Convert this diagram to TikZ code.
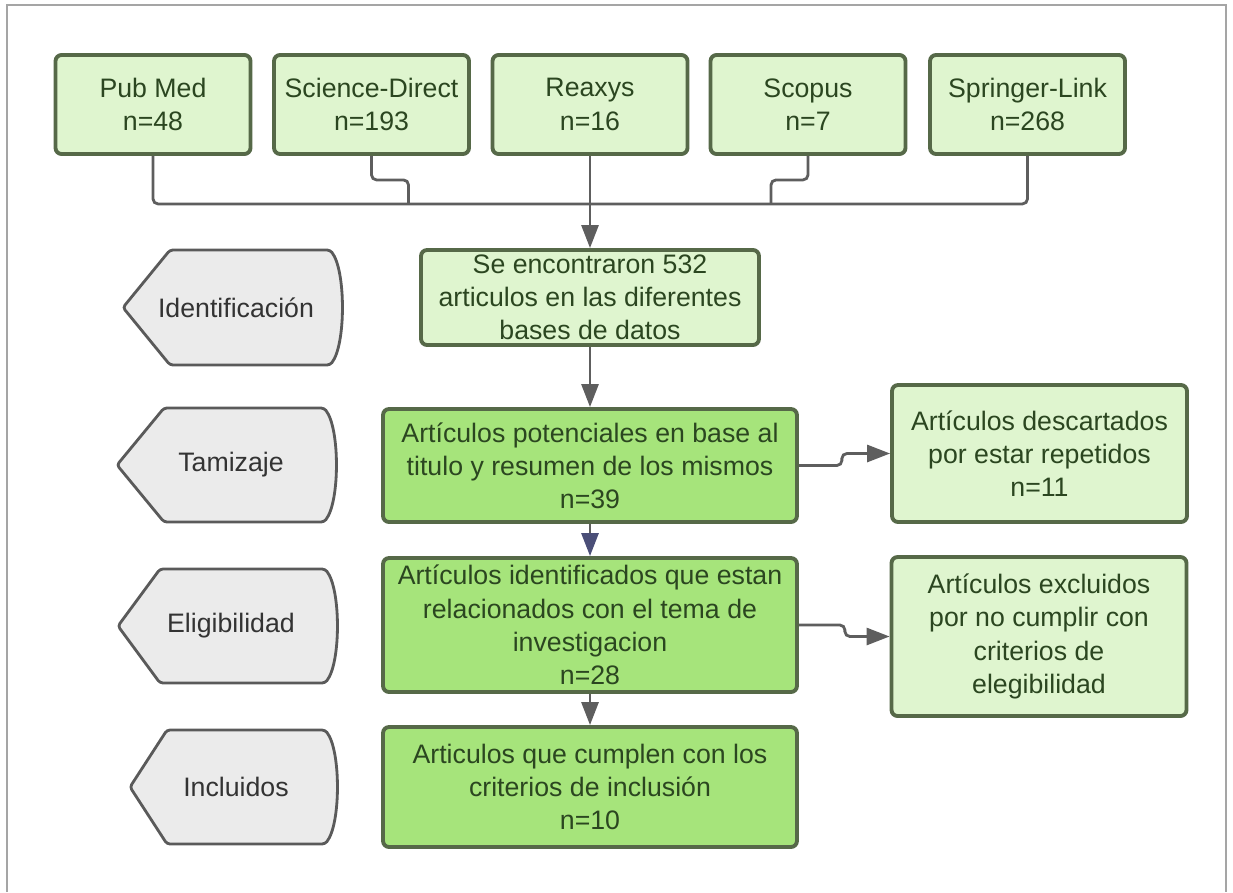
\documentclass[tikz,border=0pt]{standalone}
\usepackage{fontspec}
\setmainfont{Liberation Sans}
\usetikzlibrary{arrows.meta}
\definecolor{srcfill}{HTML}{DFF5CF}
\definecolor{stepfill}{HTML}{A6E47B}
\definecolor{boxline}{HTML}{566948}
\definecolor{boxtext}{HTML}{2B4620}
\definecolor{stagefill}{HTML}{EBEBEB}
\definecolor{stageline}{HTML}{5A5A5A}
\definecolor{wiregray}{HTML}{5E5E5E}
\definecolor{tipblue}{HTML}{4B4F78}
\definecolor{frameline}{HTML}{A5A5A5}

\begin{document}
\begin{tikzpicture}[x=0.02cm,y=-0.02cm,
                every node/.style={font=\fontsize{15.2}{18.9}\selectfont},
                box/.style={draw=boxline,line width=2.2pt,rounded corners=0.12cm,text=boxtext,align=center,inner sep=0pt},
                src/.style={box,fill=srcfill,minimum width=3.9cm,minimum height=1.98cm},
                mainbox/.style={box,fill=stepfill,minimum width=8.28cm},
                side/.style={box,fill=srcfill,minimum width=5.9cm},
                stage/.style={draw=stageline,fill=stagefill,line width=1.6pt,rounded corners=0.06cm},
                stagetext/.style={text=black!80},
                wire/.style={draw=wiregray,line width=1.6pt,rounded corners=0.1cm},
                flow/.style={wire,-{Triangle[length=0.46cm,width=0.34cm]}}]
                \useasboundingbox (0,0) rectangle (1233,892);
                \draw[frameline,line width=1pt] (7,892)--(7,5)--(1226,5)--(1226,892);
                \node (pubmed) at (153,104.5)[src]{Pub Med\\n=48};
                \node (scidir) at (371.5,104.5)[src]{Science-Direct\\n=193};
                \node (reaxys) at (590,104.5)[src]{Reaxys\\n=16};
                \node (scopus) at (808,104.5)[src]{Scopus\\n=7};
                \node (springer) at (1027.5,104.5)[src]{Springer-Link\\n=268};
                \node (found) at (590,297.5)[box,fill=srcfill,minimum width=6.76cm,minimum height=1.9cm]{Se encontraron 532\\articulos en las diferentes\\bases de datos};
                \node (screen) at (590,465.5)[mainbox,minimum height=2.26cm]{Artículos potenciales en base al\\titulo y resumen de los mismos\\n=39};
                \node (eligible) at (590,625)[mainbox,minimum height=2.68cm]{Artículos identificados que estan\\relacionados con el tema de\\investigacion\\n=28};
                \node (included) at (590,787)[mainbox,minimum height=2.4cm]{Articulos que cumplen con los\\criterios de inclusión\\n=10};
                \node (desc) at (1039.5,453.5)[side,minimum height=2.74cm]{Artículos descartados\\por estar repetidos\\n=11};
                \node (excl) at (1039,636.5)[side,minimum height=3.18cm]{Artículos excluidos\\por no cumplir con\\criterios de\\elegibilidad};
                \draw[stage] (170,250)--(123,307.5)--(170,365)--(330,365)..controls(346,345)and(346,270)..(330,250)--cycle;
                \draw[stage] (164,408)--(117,465)--(164,522)--(324,522)..controls(340,502)and(340,428)..(324,408)--cycle;
                \draw[stage] (160,569)--(118,626)--(160,683)--(325,683)..controls(341,663)and(341,589)..(325,569)--cycle;
                \draw[stage] (167,730)--(130,787)--(167,844)--(325,844)..controls(341,824)and(341,750)..(325,730)--cycle;
                \node (ident) at (236,307.5)[stagetext]{Identificación};
                \node (tamiz) at (231,465)[stagetext]{Tamizaje};
                \node (elig) at (231,626)[stagetext]{Eligibilidad};
                \node (incl) at (236,787)[stagetext]{Incluidos};
                \draw[wire] (pubmed.south) -- ++(0,48) -| (springer.south);
                \draw[wire] (scidir.south) -- ++(0,24) -- ++(37,0) -- ++(0,24);
                \draw[wire] (scopus.south) -- ++(0,24) -- ++(-37,0) -- ++(0,24);
                \draw[flow] (reaxys.south) -- (found.north);
                \draw[flow] (found) -- (screen);
                \draw[flow,-{Triangle[length=0.46cm,width=0.34cm,color=tipblue]}] (screen) -- (eligible);
                \draw[flow] (eligible) -- (included);
                \draw[flow] (screen.east) -- ++(43,0) |- (desc.west);
                \draw[flow] (eligible.east) -- ++(46,0) |- (excl.west);
\end{tikzpicture}
\end{document}
